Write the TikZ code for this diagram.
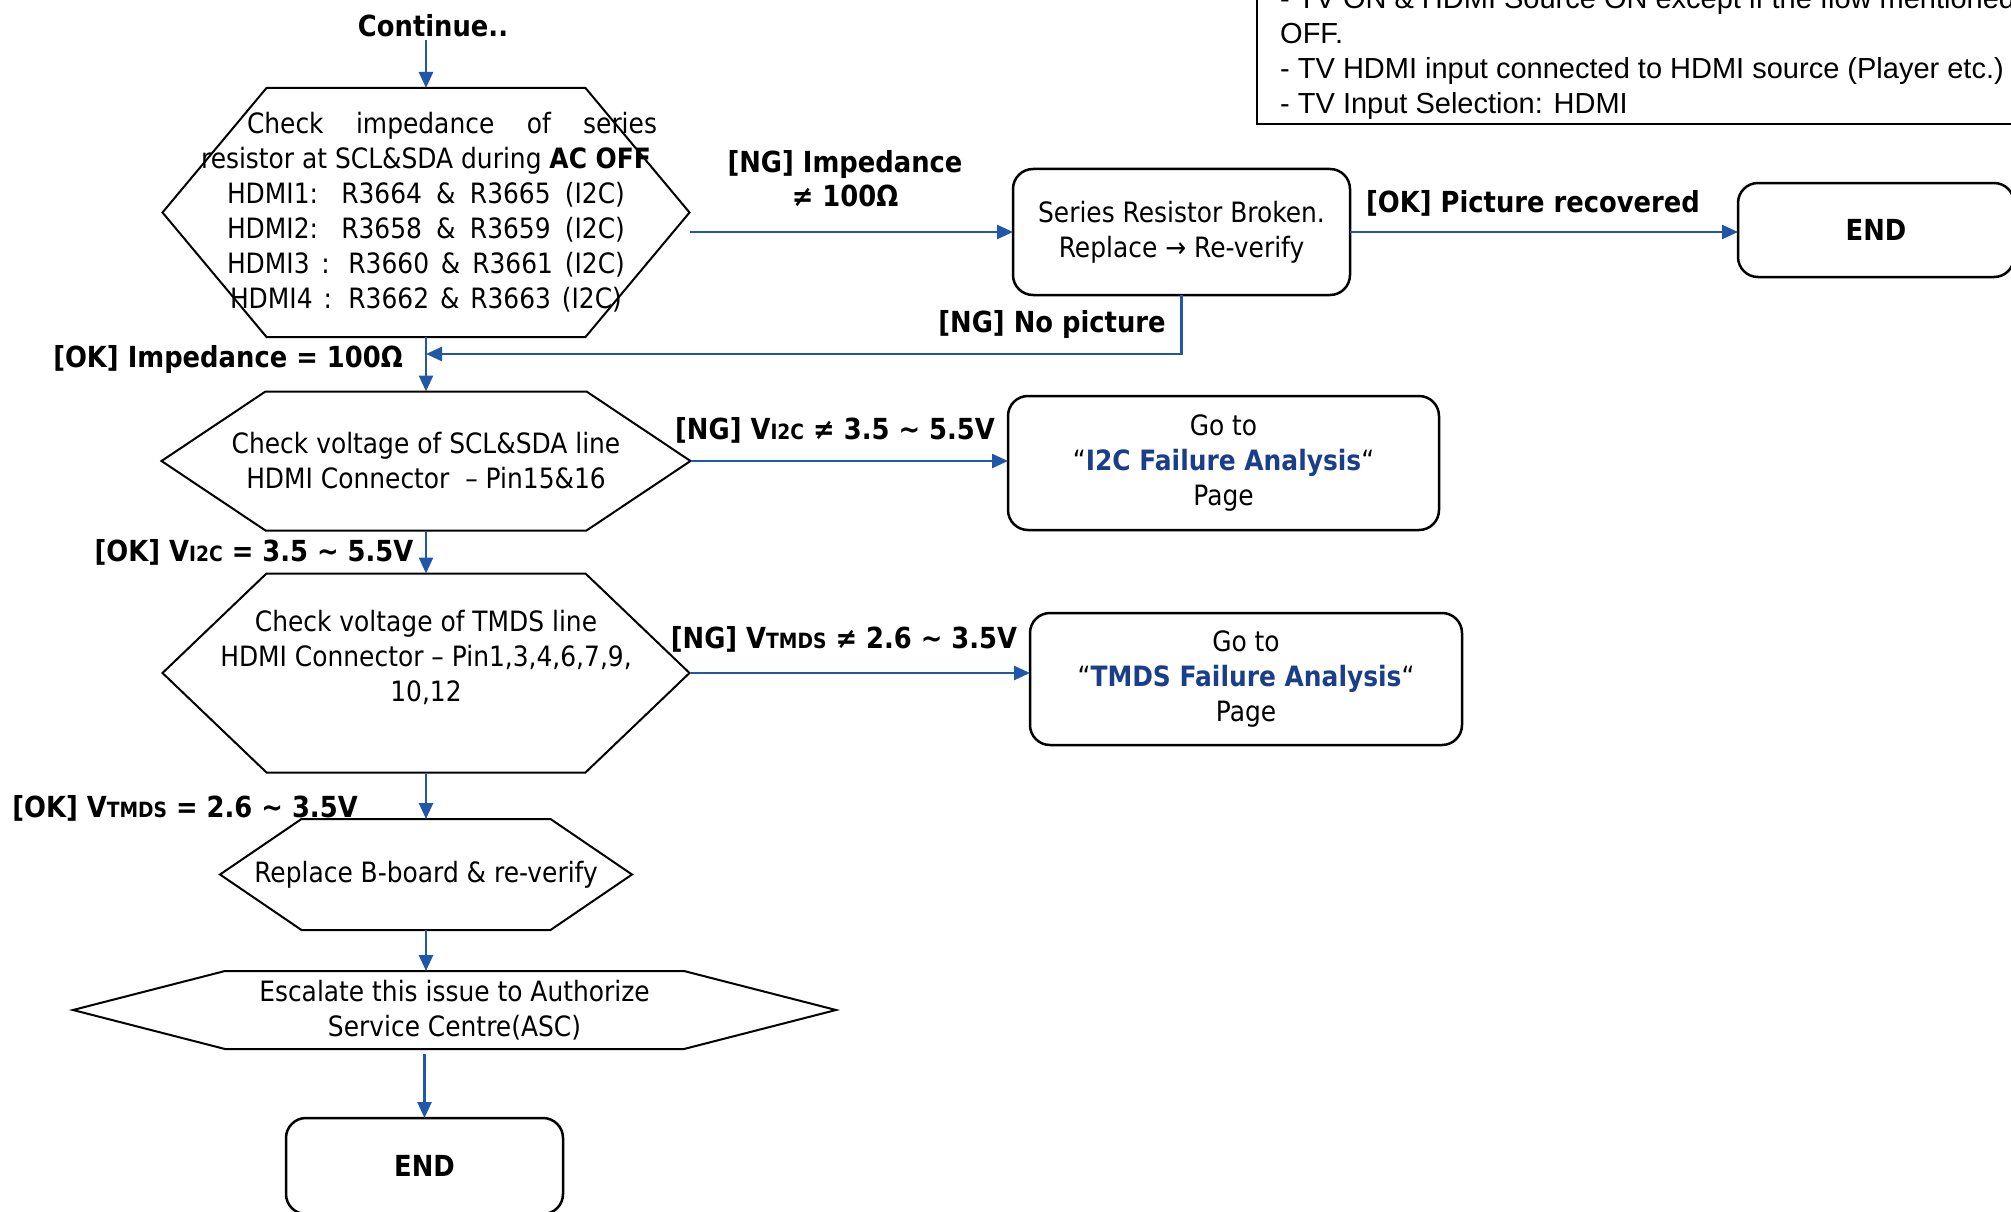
\documentclass[tikz,border=0pt]{standalone}
\usepackage{fontspec}
\setmainfont{DejaVu Sans}[FakeStretch=0.89]
\newfontfamily\notefont{Liberation Sans}
\usetikzlibrary{arrows.meta,positioning,calc}
\definecolor{flowblue}{HTML}{2157A8}
\definecolor{linkblue}{HTML}{1B3E8A}
\newcommand{\bodytext}{\fontsize{28}{35}\selectfont}
\newcommand{\tagtext}{\fontsize{29}{34}\selectfont\bfseries}
\newcommand{\smallcap}[1]{{\fontsize{21}{21}\selectfont #1}}
\newcommand{\spread}[2]{\makebox[#1][s]{#2}}
\newcommand{\hexframe}[2]{\draw[hexline] ($(#1.north west)+(#2,0)$) -- ($(#1.north east)+(-#2,0)$)
  -- (#1.east) -- ($(#1.south east)+(-#2,0)$) -- ($(#1.south west)+(#2,0)$) -- (#1.west) -- cycle;}
\tikzset{
 hexnode/.style={align=center,inner sep=0pt,outer sep=0pt,font=\bodytext},
 hexline/.style={draw,line width=2pt,line join=miter},
 box/.style={draw,line width=2.5pt,rounded corners=20pt,align=center,inner sep=0pt,
             outer sep=0pt,font=\bodytext},
 arrow/.style={-{Triangle[length=16pt,width=14pt]},line width=2.5pt,color=flowblue},
 tag/.style={font=\tagtext,align=center,inner sep=0pt}
}

\begin{document}
\begin{tikzpicture}[x=1pt,y=-1pt]
\useasboundingbox (0,0) rectangle (2011,1212);
% main column
\node[tag] (cont) at (433,26) {Continue..};
\node[hexnode,minimum width=527pt,minimum height=249pt] (chkimp) at (426,212.5)
  {\hspace*{52pt}\spread{410pt}{Check impedance of series}\\
   resistor at SCL\&SDA during \textbf{AC OFF}\\
   \spread{398pt}{HDMI1: R3664 \& R3665 (I2C)}\\
   \spread{398pt}{HDMI2: R3658 \& R3659 (I2C)}\\
   \spread{398pt}{HDMI3 : R3660 \& R3661 (I2C)}\\
   \spread{392pt}{HDMI4 : R3662 \& R3663 (I2C)}};
\node[hexnode,minimum width=529pt,minimum height=139pt] (chkvolt) at (426,461)
  {Check voltage of SCL\&SDA line\\HDMI Connector \ – Pin15\&16};
\node[hexnode,minimum width=527pt,minimum height=199pt] (chktmds) at (426,673)
  {Check voltage of TMDS line\\HDMI Connector – Pin1,3,4,6,7,9,\\10,12\\ \mbox{}};
\node[hexnode,minimum width=412pt,minimum height=111pt] (replace) at (426,874.5)
  {Replace B-board \& re-verify};
\node[hexnode,minimum width=763pt,minimum height=78pt] (escalate) at (454.5,1010)
  {Escalate this issue to Authorize\\Service Centre(ASC)};
\node[box,font=\tagtext,minimum width=277pt,minimum height=96pt] (endtwo) at (424.5,1166) {END};
\hexframe{chkimp}{104}
\hexframe{chkvolt}{104}
\hexframe{chktmds}{104}
\hexframe{replace}{81.5}
\hexframe{escalate}{152}

% right side
\node[box,minimum width=337pt,minimum height=126pt] (series) at (1181.5,232)
  {Series Resistor Broken.\\Replace → Re-verify};
\node[box,font=\tagtext,minimum width=276pt,minimum height=94pt] (endone) at (1876,230) {END};
\node[box,minimum width=431pt,minimum height=134pt] (gotoi2c) at (1223.5,463)
  {Go to\\“\textcolor{linkblue}{\textbf{I2C Failure Analysis}}“\\Page};
\node[box,minimum width=432pt,minimum height=132pt] (gototmds) at (1246,679)
  {Go to\\“\textcolor{linkblue}{\textbf{TMDS Failure Analysis}}“\\Page};

% note
\node[font=\notefont\fontsize{29}{35}\selectfont,align=left,anchor=west,inner sep=0pt] (notetxt) at (1280,53.5)
  {- TV ON \& HDMI Source ON except if the flow mentioned\\OFF.\\- TV HDMI input connected to HDMI source (Player etc.)\\- TV Input Selection: HDMI};
\draw[line width=2.5pt] (1257,-40) rectangle (2120,124);

% labels
\node[tag] (ngimp) at (845,179) {[NG] Impedance\\≠ 100Ω};
\node[tag] (okpic) at (1533,203) {[OK] Picture recovered};
\node[tag] (ngpic) at (1052,324) {[NG] No picture};
\node[tag] (okimp) at (228,359) {[OK] Impedance = 100Ω};
\node[tag] (ngi2c) at (835,430) {[NG] V\smallcap{I2C} ≠ 3.5 \textasciitilde{} 5.5V};
\node[tag] (oki2c) at (254,552) {[OK] V\smallcap{I2C} = 3.5 \textasciitilde{} 5.5V};
\node[tag] (ngtmds) at (844,639) {[NG] V\smallcap{TMDS} ≠ 2.6 \textasciitilde{} 3.5V};
\node[tag] (oktmds) at (185,808) {[OK] V\smallcap{TMDS} = 2.6 \textasciitilde{} 3.5V};
\coordinate (retpt) at (426,354);

% connectors
\draw[arrow,shorten <=3pt] (chkimp.north |- cont.south) -- (chkimp.north);
\draw[arrow] (chkimp.east |- series.west) -- (series.west);
\draw[arrow] (series.east) -- (series.east -| endone.west);
\draw[arrow] (series.south) |- (retpt);
\draw[arrow] (chkimp.south) -- (chkvolt.north);
\draw[arrow] (chkvolt.east) -- (chkvolt.east -| gotoi2c.west);
\draw[arrow] (chkvolt.south) -- (chktmds.north);
\draw[arrow] (chktmds.east) -- (chktmds.east -| gototmds.west);
\draw[arrow] (chktmds.south) -- (replace.north);
\draw[arrow] (replace.south) -- (replace.south |- escalate.north);
\draw[arrow,shorten <=5pt] (endtwo.north |- escalate.south) -- (endtwo.north);
\end{tikzpicture}
\end{document}
